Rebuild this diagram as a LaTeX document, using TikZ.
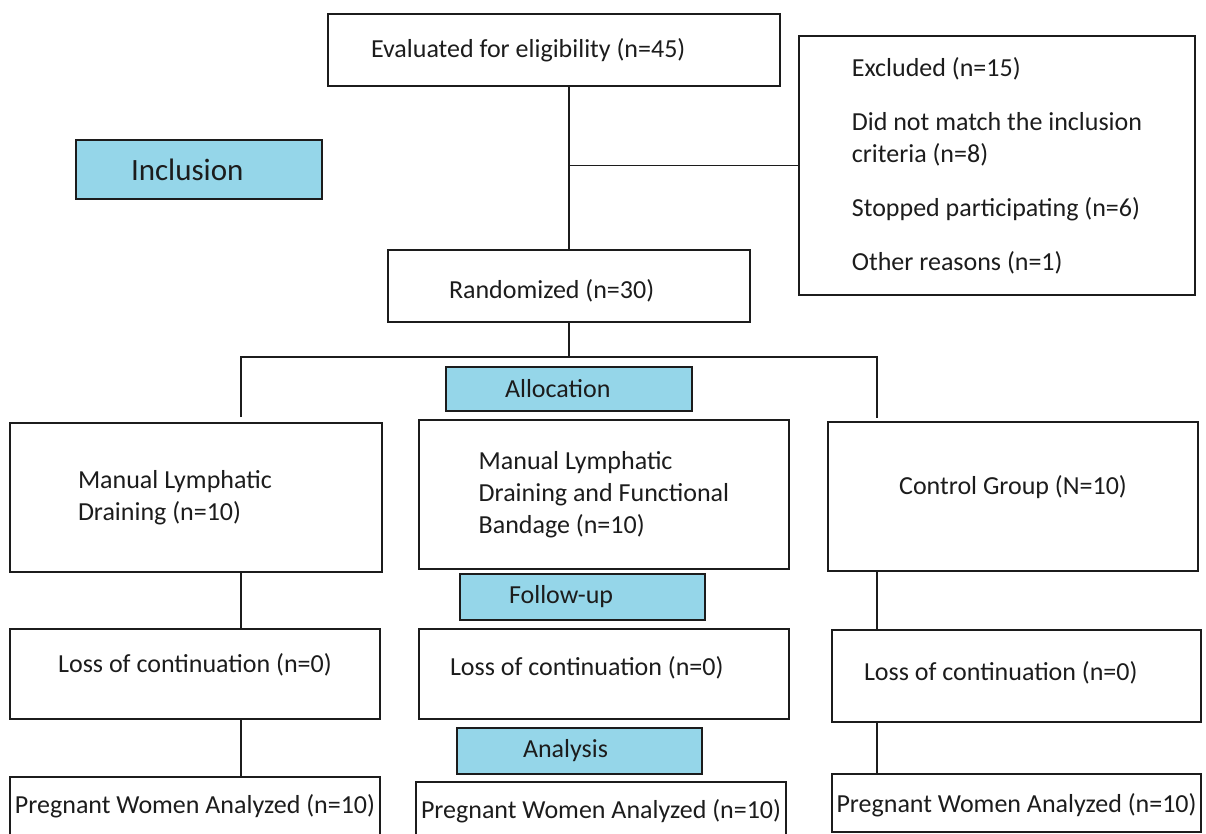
\documentclass[tikz,border=0pt]{standalone}
\usepackage{fontspec}
\setmainfont{Carlito}
\definecolor{phaseblue}{HTML}{95D6E9}
\definecolor{ink}{HTML}{1C1C1C}

\begin{document}
\begin{tikzpicture}[x=1pt,y=-1pt,
  box/.style={draw=ink,line width=1.5pt,inner sep=0pt,text=ink,
              font=\fontsize{26}{32}\selectfont},
  phase/.style={box,fill=phaseblue},
  link/.style={draw=ink,line width=1.5pt}]
\clip (0,0) rectangle (1206,834);

% inclusion
\node[box,minimum width=452,minimum height=72,text width=366,align=flush left] (eval) at (554,50) {Evaluated for eligibility (n=45)};
\node[box,minimum width=396,minimum height=259,align=left] (excl) at (997,165.5)
  {Excluded (n=15)\\[22pt]Did not match the inclusion\\criteria (n=8)\\[22pt]Stopped participating (n=6)\\[22pt]Other reasons (n=1)};
\node[phase,minimum width=246,minimum height=59,text width=136,align=flush left,font=\fontsize{31}{36}\selectfont] (incl) at (199,169.5) {Inclusion};
\node[box,minimum width=362,minimum height=72,text width=240,align=flush left,text height=24pt,text depth=0pt] (rand) at (569,286) {Randomized (n=30)};

% allocation
\node[phase,minimum width=246,minimum height=44,text width=128,align=flush left] (alloc) at (569,389) {Allocation};
\node[box,minimum width=372,minimum height=149,text width=236,align=flush left] (mld) at (196,497.5) {Manual Lymphatic\\Draining (n=10)};
\node[box,minimum width=370,minimum height=149,align=left] (mlfb) at (604,494.5) {Manual Lymphatic\\Draining and Functional\\Bandage (n=10)};
\node[box,minimum width=370,minimum height=149,text height=19pt,text depth=24pt] (ctrl) at (1013,496.5) {Control Group (N=10)};

% follow-up
\node[phase,minimum width=245,minimum height=46,text width=147,align=flush left] (fu) at (582.5,597) {Follow-up};
\node[box,minimum width=370,minimum height=90,text height=19pt,text depth=23pt] (lossl) at (195,674) {Loss of continuation (n=0)};
\node[box,minimum width=370,minimum height=90,text width=308,align=flush left,text height=19pt,text depth=17pt] (lossm) at (604,674) {Loss of continuation (n=0)};
\node[box,minimum width=369,minimum height=92,text width=305,align=flush left,text height=19pt,text depth=11pt] (lossr) at (1016.5,676) {Loss of continuation (n=0)};

% analysis
\node[phase,minimum width=245,minimum height=46,text width=113,align=flush left] (an) at (579.5,751) {Analysis};
\node[box,minimum width=370,minimum height=58,text height=19pt,text depth=5pt] (pwal) at (195,806) {Pregnant Women Analyzed (n=10)};
\node[box,minimum width=370,minimum height=54,text height=19pt,text depth=1pt] (pwam) at (601,809) {Pregnant Women Analyzed (n=10)};
\node[box,minimum width=369,minimum height=58,text height=19pt,text depth=0pt] (pwar) at (1016.5,803) {Pregnant Women Analyzed (n=10)};

\coordinate (split) at (569,357);
\coordinate (tl) at (241,417);
\coordinate (tr) at (877,418);

\draw[link] (eval.south -| rand.north) -- (rand.north);
\draw[link] (excl.west) -- (excl.west -| rand.north);
\draw[link] (rand.south) -- (split);
\draw[link] (tl) |- (split) -| (tr);
\draw[link] (mld.south -| tl) -- (lossl.north -| tl);
\draw[link] (lossl.south -| tl) -- (pwal.north -| tl);
\draw[link] (ctrl.south -| tr) -- (lossr.north -| tr);
\draw[link] (lossr.south -| tr) -- (pwar.north -| tr);
\end{tikzpicture}
\end{document}
